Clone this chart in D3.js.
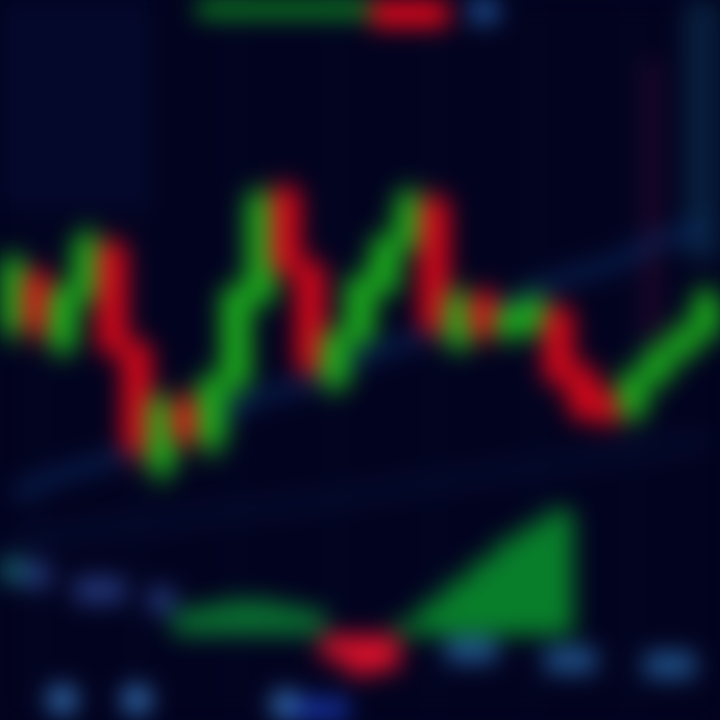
<!DOCTYPE html>
<html><head><meta charset="utf-8">
<script src="https://cdn.jsdelivr.net/npm/d3@7"></script>
<style>html,body{margin:0;padding:0;background:#02031f;overflow:hidden;}svg{display:block;filter:blur(12px);}</style>
</head><body>
<script>
// ---- data ----
const candleIdx = d3.range(29);
const opens  = [139.0,144.5,137.2,142.5,147.5,137.5,125.0,132.0,127.5,133.5,142.0,153.0,145.5,133.5,138.0,143.0,147.5,152.0,137.5,142.5,138.5,139.0,141.0,135.0,132.5,130.5,134.0,136.5,138.5];
const closes = [145.8,139.0,143.0,148.2,137.0,127.0,132.0,128.0,134.0,143.0,152.5,145.0,135.0,138.5,144.0,148.0,152.5,139.0,142.5,138.5,141.0,142.0,134.0,130.5,130.0,134.5,137.0,139.0,142.5];
const highs  = [147.0,145.5,144.0,149.5,148.5,138.5,133.0,133.0,135.0,144.0,153.5,154.0,146.5,139.5,145.0,149.0,153.5,153.0,143.5,143.5,142.0,143.0,142.0,136.0,133.5,135.5,138.0,140.0,143.5];
const lows   = [137.5,137.5,136.0,141.0,136.0,125.5,123.5,127.0,126.0,132.0,141.0,144.0,134.0,132.5,137.0,142.0,146.5,138.0,136.5,137.5,137.5,138.0,133.0,129.5,129.0,129.5,133.0,135.5,137.5];
const histVals = [0,0,0,0,0,0,0,2.5,3,3.5,3.5,3,2.5,-2.5,-4,-3.5,1.5,3.5,5.5,7.5,9.5,11,12.5,0,0,0,0,0,0];
const sigUpIdx = [0,1,3,4,6,18,19,22,23,26,27];
const sigUpVal = [6.5,6,4.5,4.5,3.5,-1.5,-1.5,-2.5,-2.5,-3,-3];
const sigLoIdx = [2,5,11,12,13];
const sigLoVal = [-6.5,-6.5,-7,-7.7,-7.7];
const topIdx = [8,9,10,11,12,13,14,15,16,17,19];
const topVal = [1.5,1.5,1.5,1.5,1.5,1.5,1.5,2.5,2.5,2.5,2];
const topKind = ["up","up","up","up","up","up","up","down","down","down","sig"];
const ma1Idx = [0,2,4,6,8,10,12,14,16,18,20,22,24,26,28];
const ma1Val = [122.5,124.6,126.1,128.5,130.0,132.4,133.8,136.2,137.9,140.1,141.6,144.0,145.5,147.8,149.4];
const ma2Idx = [0,4,8,12,16,20,24,28];
const ma2Val = [118.0,119.2,120.6,121.8,123.4,124.9,126.5,128.0];

// ---- setup ----
const W = 720, H = 720;
const svg = d3.select("body").append("svg").attr("width", W).attr("height", H);

svg.append("rect").attr("x",-40).attr("y",-40).attr("width",W+80).attr("height",H+80).attr("fill","#02031f");

const x = d3.scaleBand().domain(candleIdx).range([0, W]).padding(0.04);
const xc = i => x(i) + x.bandwidth()/2;
const y = d3.scaleLinear().domain([100, 172]).range([H, 0]);
const yh = d3.scaleLinear().domain([-8.5, 13]).range([H, 505]);
const yt = d3.scaleLinear().domain([0, 5]).range([0, 50]);

const GREEN = "#1cae1c", RED = "#d8081a";

const g = svg.append("g");

// soft background glows
g.append("rect").attr("x",x(27)+14).attr("y",-30).attr("width",60).attr("height",290).attr("fill","#0a2846").attr("opacity",0.8);
g.append("rect").attr("x",-30).attr("y",-30).attr("width",180).attr("height",240).attr("fill","#050c30").attr("opacity",0.7);

// faint grid
g.append("g").selectAll("line").data(candleIdx.filter(i => i % 4 === 1)).join("line")
  .attr("x1", xc).attr("x2", xc).attr("y1", 0).attr("y2", H)
  .attr("stroke","#081032").attr("stroke-width",4).attr("opacity",0.6);

// crosshair-like faint vertical
g.append("line").attr("x1", xc(26)-6).attr("x2", xc(26)-6).attr("y1", y(166)).attr("y2", y(138))
  .attr("stroke","#4a0c38").attr("stroke-width",10).attr("opacity",0.7);

// moving averages
const lineGen = d3.line().curve(d3.curveCatmullRom);
g.append("path").attr("d", lineGen(ma2Idx.map((d,k)=>[xc(d), y(ma2Val[k])])))
  .attr("fill","none").attr("stroke","#0a1c48").attr("stroke-width",16).attr("opacity",0.4);
g.append("path").attr("d", lineGen(ma1Idx.map((d,k)=>[xc(d), y(ma1Val[k])])))
  .attr("fill","none").attr("stroke","#0c3878").attr("stroke-width",16).attr("opacity",0.5);

// top strip
g.append("g").selectAll("rect").data(topIdx).join("rect")
  .attr("x", d => x(d) - 2).attr("width", x.bandwidth()+4)
  .attr("y", -20).attr("height", (d,k) => yt(topVal[k]) + 22)
  .attr("fill", (d,k) => topKind[k]==="up" ? "#0e8a20" : topKind[k]==="down" ? "#e0081a" : "#2258a0");

// candles
const candles = g.append("g").selectAll("g").data(candleIdx).join("g");
candles.append("line")
  .attr("x1", xc).attr("x2", xc)
  .attr("y1", i => y(highs[i])).attr("y2", i => y(lows[i]))
  .attr("stroke", i => closes[i] >= opens[i] ? GREEN : RED).attr("stroke-width", 8);
candles.append("rect")
  .attr("x", i => x(i) - 3).attr("width", x.bandwidth() + 6)
  .attr("y", i => y(Math.max(opens[i], closes[i])))
  .attr("height", i => Math.abs(y(opens[i]) - y(closes[i])))
  .attr("fill", i => closes[i] >= opens[i] ? GREEN : RED);

// histogram
g.append("g").selectAll("rect").data(candleIdx.filter(i => histVals[i] !== 0)).join("rect")
  .attr("x", i => x(i) - 2).attr("width", x.bandwidth() + 5)
  .attr("y", i => yh(Math.max(0, histVals[i])))
  .attr("height", i => Math.abs(yh(histVals[i]) - yh(0)))
  .attr("fill", i => histVals[i] >= 0 ? (i < 13 ? "#0a6e30" : "#087e2a") : "#d8102a");

// signal dots
g.append("g").selectAll("circle").data(sigUpIdx).join("circle")
  .attr("cx", xc).attr("cy", (d,k) => yh(sigUpVal[k])).attr("r", 14)
  .attr("fill", (d,k) => k === 0 ? "#1a7078" : k < 5 ? "#2c4490" : "#2866a4").attr("opacity",0.85);
g.append("g").selectAll("circle").data(sigLoIdx).join("circle")
  .attr("cx", xc).attr("cy", (d,k) => yh(sigLoVal[k])).attr("r", 15)
  .attr("fill", (d,k) => k < 3 ? "#3a7cc4" : "#1a38b4").attr("opacity",0.9);
</script>
</body></html>
